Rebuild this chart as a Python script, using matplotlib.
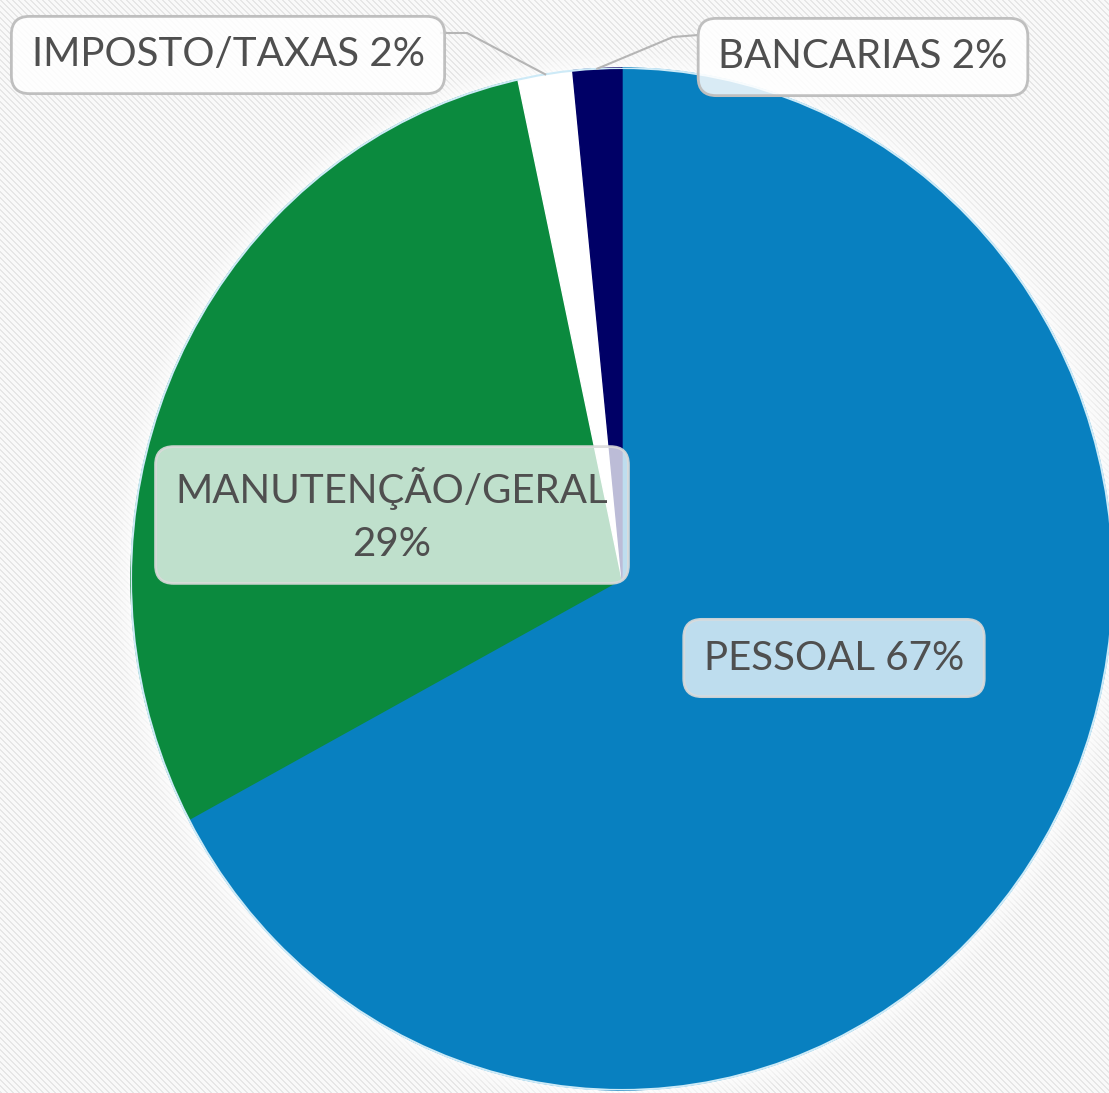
import numpy as np
import matplotlib
matplotlib.use("Agg")
import matplotlib.pyplot as plt
from matplotlib.patches import Ellipse

plt.rcParams["font.family"] = ["Lato", "DejaVu Sans"]

# data (clockwise from 12 o'clock)
categories = ["PESSOAL", "MANUTENÇÃO/GERAL", "IMPOSTO/TAXAS", "BANCARIAS"]
shares = [67.2, 29.4, 1.8, 1.6]
colors = ["#0880C0", "#0B8A3E", "#FFFFFF", "#000066"]

W, H = 1109, 1093
cx, cy, rx, ry = 622, 579, 491, 511  # pie centre / radii in pixels

fig = plt.figure(figsize=(W / 100, H / 100), dpi=100)

# striped background
bg = fig.add_axes([0, 0, 1, 1])
yy, xx = np.mgrid[0:H, 0:W]
stripes = ((xx - yy) % 6 < 2).astype(float)
bg.imshow(stripes, cmap=matplotlib.colors.ListedColormap(["#f9f9f9", "#e6e6e6"]),
          extent=[0, W, H, 0], interpolation="nearest", aspect="auto")
# soft white glow round the pie
for i, a in enumerate(np.linspace(0.12, 0.5, 8)):
    grow = 22 - i * 2.7
    bg.add_patch(Ellipse((cx, cy), 2 * (rx + grow), 2 * (ry + grow),
                         facecolor="white", edgecolor="none", alpha=a * 0.5))
bg.set_xlim(0, W)
bg.set_ylim(H, 0)
bg.axis("off")

# pie in its own (stretched) axes
pax = fig.add_axes([(cx - rx) / W, (H - cy - ry) / H, 2 * rx / W, 2 * ry / H])
wedges, _ = pax.pie(shares, colors=colors, startangle=90, counterclock=False,
                    wedgeprops=dict(linewidth=1))
for w, c in zip(wedges, colors):
    w.set_edgecolor(c)
pax.set_aspect("auto")
pax.set_xlim(-1, 1)
pax.set_ylim(-1, 1)
pax.add_patch(Ellipse((0, 0), 2, 2, facecolor="none", edgecolor="#cdeaf7",
                      linewidth=1.5))
pax.axis("off")

# overlay in pixel coords for labels
ov = fig.add_axes([0, 0, 1, 1])
ov.set_xlim(0, W)
ov.set_ylim(H, 0)
ov.axis("off")
ov.patch.set_alpha(0)


def wedge_mid(w, r=1.0):
    ang = np.deg2rad((w.theta1 + w.theta2) / 2)
    return cx + r * rx * np.cos(ang), cy - r * ry * np.sin(ang)


labels = []
for name, v in zip(categories, shares):
    if name.startswith("MANUT"):
        labels.append(f"{name}\n{round(v)}%")
    else:
        labels.append(f"{name} {round(v)}%")

label_pos = [(834, 658), (392, 515), (228, 55), (863, 57)]
inside = [True, True, False, False]

for txt, (lx, ly), ins in zip(labels, label_pos, inside):
    box = dict(boxstyle="round,pad=0.5,rounding_size=0.45",
               facecolor=(1, 1, 1, 0.74 if ins else 0.85),
               edgecolor=(0.86, 0.86, 0.86, 0.9) if ins else "#bfbfbf",
               linewidth=2)
    ov.text(lx, ly, txt, ha="center", va="center", fontsize=29,
            color="#4f4f4f", linespacing=1.55, bbox=box, zorder=5)

# leader lines for the two small slices
mx, my = wedge_mid(wedges[2])
ov.plot([441, 467, mx], [33, 33, my], color="#b5b5b5", lw=1.5, zorder=4)
mx, my = wedge_mid(wedges[3])
ov.plot([698, 673, mx], [35, 37, my], color="#b5b5b5", lw=1.5, zorder=4)

fig.savefig("out.png", dpi=100)
